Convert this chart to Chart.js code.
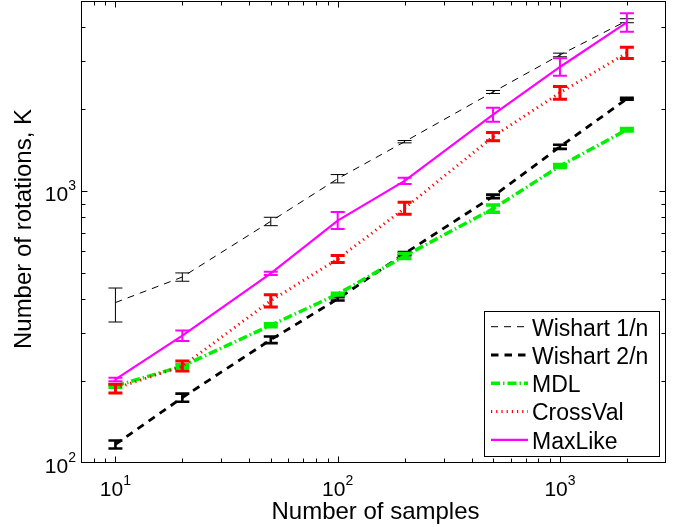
<!DOCTYPE html>
<html><head><meta charset="utf-8">
<script src="https://cdn.jsdelivr.net/npm/chart.js@4.4.1/dist/chart.umd.min.js"></script>
<style>html,body{margin:0;padding:0;background:#fff;}#wrap{width:678px;height:527px;}</style>
</head><body><div id="wrap"><canvas id="c" width="678" height="527"></canvas></div>
<script>
const sampleSizes = [10, 20, 50, 100, 200, 500, 1000, 2000];
const wishart1Mean = [389, 483, 774, 1110, 1519, 2314, 3167, 4230];
const wishart1Lo   = [330, 466, 746, 1072, 1504, 2285, 3118, 4160];
const wishart1Hi   = [440, 500, 801, 1150, 1534, 2344, 3215, 4303];
const wishart2Mean = [117, 174, 284, 401, 589, 956, 1455, 2184];
const wishart2Lo   = [113, 168, 276, 396, 581, 942, 1429, 2167];
const wishart2Hi   = [121, 180, 292, 407, 597, 970, 1481, 2201];
const mdlMean      = [192, 227, 321, 418, 577, 861, 1236, 1681];
const mdlLo        = [190, 224, 317, 415, 565, 835, 1220, 1663];
const mdlHi        = [194, 230, 325, 421, 589, 888, 1252, 1699];
const crossValMean = [188, 227, 395, 562, 864, 1585, 2298, 3221];
const crossValLo   = [181, 218, 375, 546, 821, 1530, 2177, 3070];
const crossValHi   = [195, 237, 416, 579, 909, 1642, 2426, 3380];
const maxLikeMean  = [203, 294, 498, 779, 1090, 1909, 2860, 4170];
const maxLikeLo    = [200, 281, 491, 725, 1061, 1799, 2655, 3857];
const maxLikeHi    = [206, 307, 505, 837, 1120, 2026, 3081, 4508];
const xMajorTicks = [10, 100, 1000];
const xTickExponents = ['1', '2', '3'];
const yMajorTicks = [100, 1000];
const yTickExponents = ['2', '3'];
const seriesNames = ['Wishart 1/n', 'Wishart 2/n', 'MDL', 'CrossVal', 'MaxLike'];
const xTitle = 'Number of samples';
const yTitle = 'Number of rotations, K';

const FONT = '"Liberation Sans", Arial, Helvetica, sans-serif';
const styles = [
  {color:'#000000', width:1,   dash:[7,6],        errW:1,   order:5},
  {color:'#000000', width:2.8, dash:[7.5,6],      errW:2.6, order:4},
  {color:'#00f000', width:3.5, dash:[9,3,1.5,3],  errW:3.5, order:3},
  {color:'#ff0000', width:3,   dash:[1.2,4],      errW:3,   order:2},
  {color:'#ff00ff', width:2.2, dash:[],           errW:2,   order:1}
];
const means = [wishart1Mean, wishart2Mean, mdlMean, crossValMean, maxLikeMean];
const los = [wishart1Lo, wishart2Lo, mdlLo, crossValLo, maxLikeLo];
const his = [wishart1Hi, wishart2Hi, mdlHi, crossValHi, maxLikeHi];

const datasets = seriesNames.map((name, k) => ({
  label: name,
  data: sampleSizes.map((x, i) => ({x: x, y: means[k][i]})),
  errLo: los[k], errHi: his[k],
  borderColor: styles[k].color,
  backgroundColor: styles[k].color,
  borderWidth: styles[k].width,
  borderDash: styles[k].dash,
  errWidth: styles[k].errW,
  order: styles[k].order,
  pointRadius: 0, tension: 0, fill: false
}));

function drawPow(ctx, base, exp, x, y, align) {
  ctx.font = '21px ' + FONT;
  const wb = ctx.measureText(base).width;
  ctx.font = '14px ' + FONT;
  const we = ctx.measureText(exp).width;
  let x0 = align === 'center' ? x - (wb + we) / 2 : x - (wb + we);
  ctx.textAlign = 'left';
  ctx.textBaseline = 'alphabetic';
  ctx.font = '21px ' + FONT;
  ctx.fillText(base, x0, y);
  ctx.font = '14px ' + FONT;
  ctx.fillText(exp, x0 + wb, y - 11);
}

const decor = {
  id: 'decor',
  afterDatasetDraw(chart, args) {
    const ds = chart.data.datasets[args.index];
    const ctx = chart.ctx, xs = chart.scales.x, ys = chart.scales.y;
    ctx.save();
    ctx.strokeStyle = ds.borderColor;
    ctx.lineWidth = ds.errWidth;
    ctx.setLineDash([]);
    ctx.lineCap = 'butt';
    sampleSizes.forEach((xv, i) => {
      const px = xs.getPixelForValue(xv);
      const pl = ys.getPixelForValue(ds.errLo[i]);
      const ph = ys.getPixelForValue(ds.errHi[i]);
      ctx.beginPath();
      ctx.moveTo(px, pl); ctx.lineTo(px, ph);
      ctx.moveTo(px - 7, pl); ctx.lineTo(px + 7, pl);
      ctx.moveTo(px - 7, ph); ctx.lineTo(px + 7, ph);
      ctx.stroke();
    });
    ctx.restore();
  },
  afterDraw(chart) {
    const ctx = chart.ctx, a = chart.chartArea, xs = chart.scales.x, ys = chart.scales.y;
    ctx.save();
    ctx.strokeStyle = '#000'; ctx.fillStyle = '#000';
    ctx.lineWidth = 1; ctx.setLineDash([]);
    const L = Math.round(a.left) + 0.5, R = Math.round(a.right) - 0.5;
    const T = Math.round(a.top) + 0.5, B = Math.round(a.bottom) - 0.5;
    ctx.strokeRect(L, T, R - L, B - T);
    ctx.beginPath();
    for (let d = 1; d <= 1000; d *= 10) {
      for (let m = 1; m <= 9; m++) {
        const v = d * m;
        if (v <= xs.min || v >= xs.max) continue;
        const p = Math.round(xs.getPixelForValue(v)) + 0.5;
        const len = m === 1 ? 6 : 4;
        ctx.moveTo(p, B); ctx.lineTo(p, B - len);
        ctx.moveTo(p, T); ctx.lineTo(p, T + len);
      }
    }
    for (let d = 100; d <= 1000; d *= 10) {
      for (let m = 1; m <= 9; m++) {
        const v = d * m;
        if (v <= ys.min || v >= ys.max) continue;
        const p = Math.round(ys.getPixelForValue(v)) + 0.5;
        const len = m === 1 ? 6 : 4;
        ctx.moveTo(L, p); ctx.lineTo(L + len, p);
        ctx.moveTo(R, p); ctx.lineTo(R - len, p);
      }
    }
    ctx.stroke();
    xMajorTicks.forEach((v, i) => {
      drawPow(ctx, '10', xTickExponents[i], xs.getPixelForValue(v), 496, 'center');
    });
    yMajorTicks.forEach((v, i) => {
      const p = ys.getPixelForValue(v);
      drawPow(ctx, '10', yTickExponents[i], 76, p + 9.6, 'right');
    });
    ctx.font = '24px ' + FONT;
    ctx.textAlign = 'center'; ctx.textBaseline = 'alphabetic';
    ctx.fillText(xTitle, (a.left + a.right) / 2 + 2, 519);
    ctx.save();
    ctx.translate(31, 229);
    ctx.rotate(-Math.PI / 2);
    ctx.fillText(yTitle, 0, 0);
    ctx.restore();
    const bx = 484.5, by = 311.5, bw = 175, bh = 145;
    ctx.fillStyle = '#fff';
    ctx.fillRect(bx, by, bw, bh);
    ctx.strokeStyle = '#000'; ctx.lineWidth = 1;
    ctx.strokeRect(bx, by, bw, bh);
    chart.data.datasets.forEach((ds, k) => {
      const ly = 326.7 + k * 28.3;
      ctx.save();
      ctx.strokeStyle = ds.borderColor;
      ctx.lineWidth = ds.borderWidth;
      ctx.setLineDash(ds.borderDash);
      ctx.beginPath();
      ctx.moveTo(491, ly); ctx.lineTo(528, ly);
      ctx.stroke();
      ctx.restore();
      ctx.fillStyle = '#000';
      ctx.font = '23px ' + FONT;
      ctx.textAlign = 'left';
      ctx.fillText(ds.label, 532, ly + 8.8);
    });
    ctx.restore();
  }
};

new Chart(document.getElementById('c'), {
  type: 'line',
  data: {datasets: datasets},
  options: {
    responsive: false,
    devicePixelRatio: 1,
    animation: false,
    layout: {padding: {left: 81, right: 12, top: 1, bottom: 64}},
    plugins: {legend: {display: false}, tooltip: {enabled: false}},
    scales: {
      x: {type: 'logarithmic', min: 7, max: 3000, display: false},
      y: {type: 'logarithmic', min: 100, max: 5000, display: false}
    }
  },
  plugins: [decor]
});
</script></body></html>
